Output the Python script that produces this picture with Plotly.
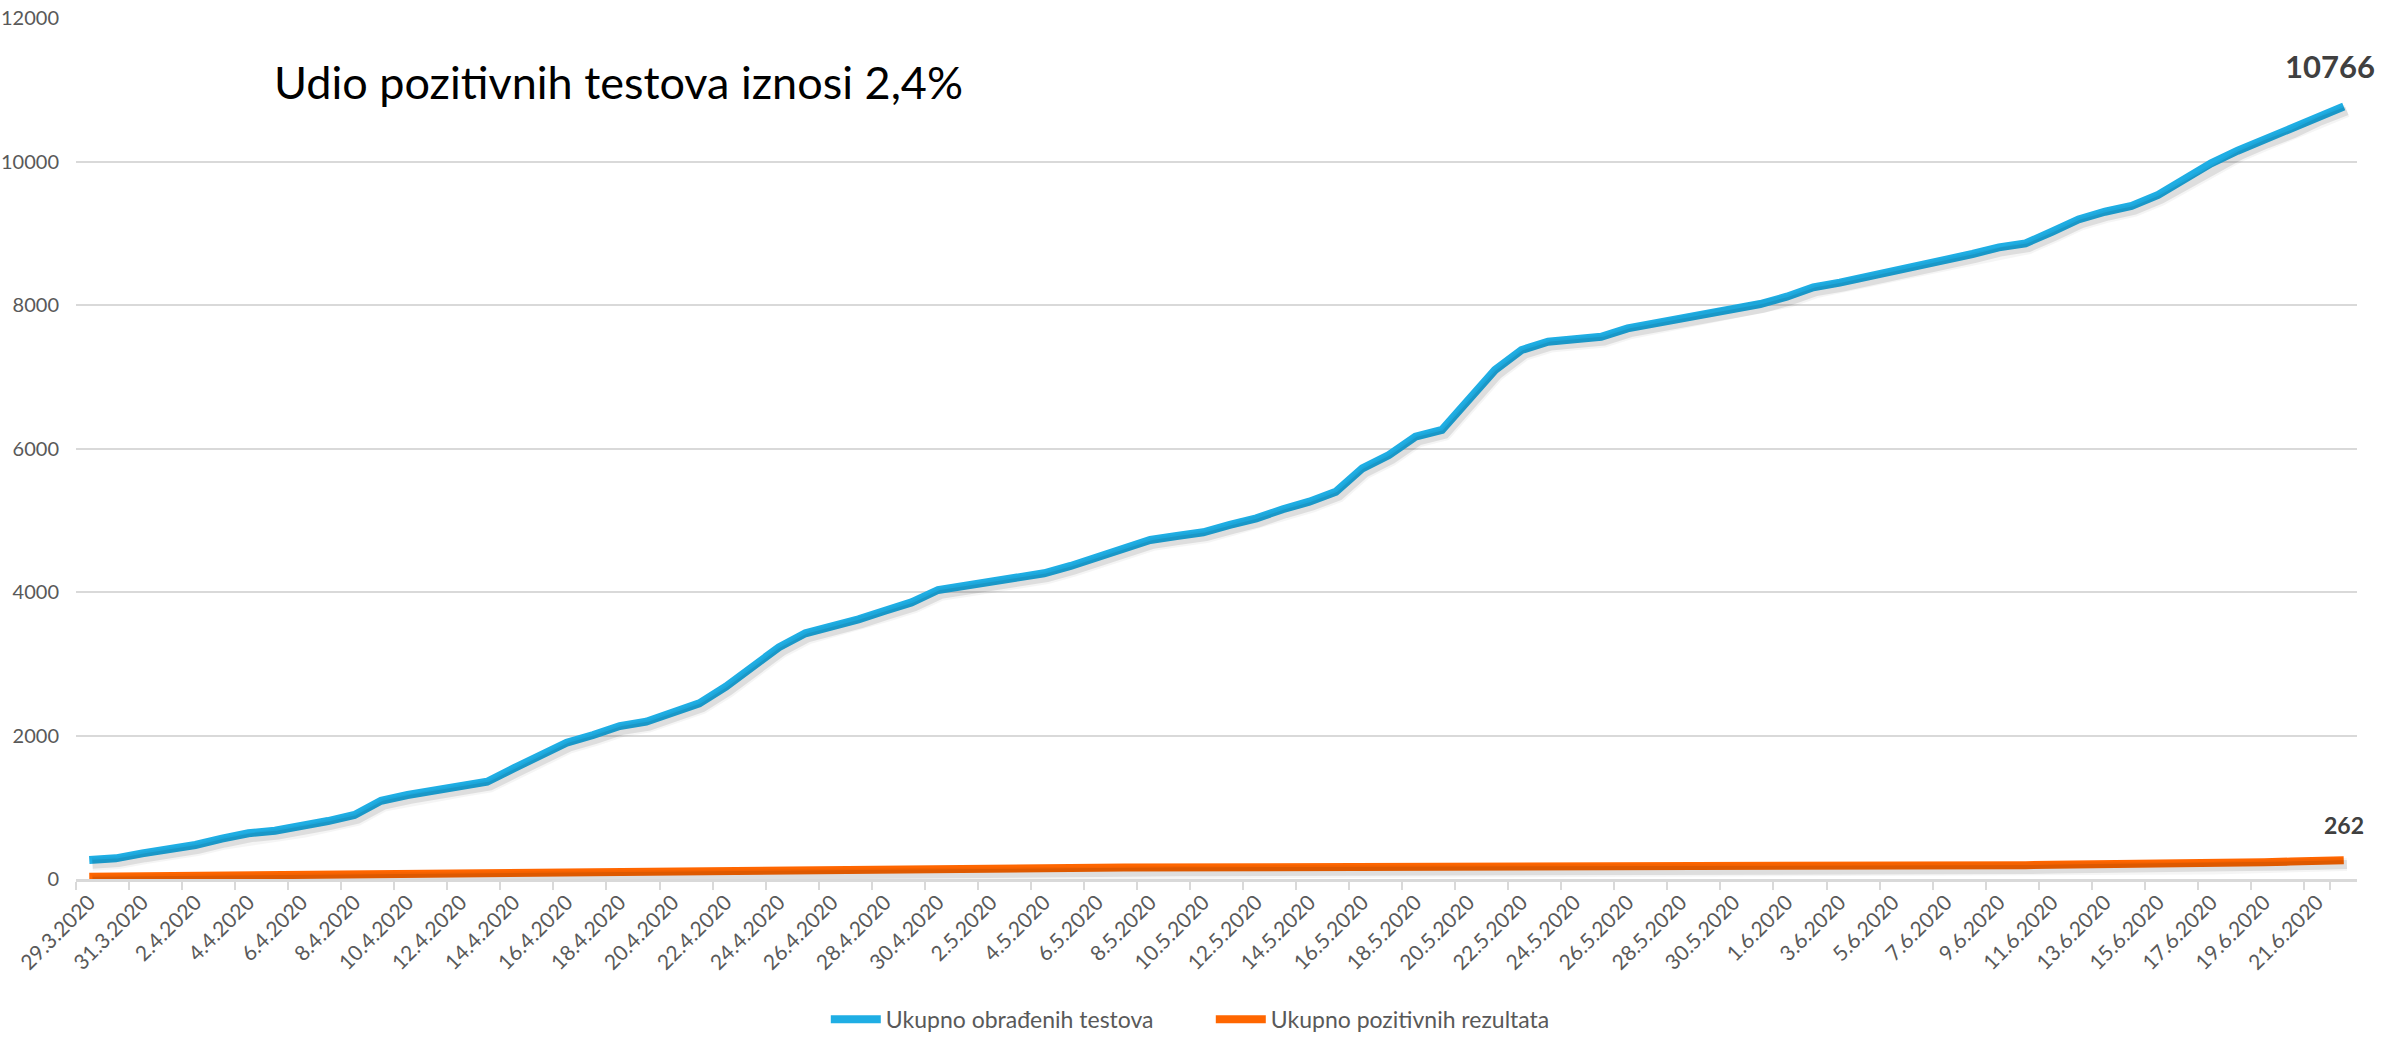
import plotly.graph_objects as go

dates = [
    "29.3.2020", "30.3.2020", "31.3.2020",
    "1.4.2020", "2.4.2020", "3.4.2020", "4.4.2020", "5.4.2020", "6.4.2020", "7.4.2020", "8.4.2020",
    "9.4.2020", "10.4.2020", "11.4.2020", "12.4.2020", "13.4.2020", "14.4.2020", "15.4.2020",
    "16.4.2020", "17.4.2020", "18.4.2020", "19.4.2020", "20.4.2020", "21.4.2020", "22.4.2020",
    "23.4.2020", "24.4.2020", "25.4.2020", "26.4.2020", "27.4.2020", "28.4.2020", "29.4.2020",
    "30.4.2020",
    "1.5.2020", "2.5.2020", "3.5.2020", "4.5.2020", "5.5.2020", "6.5.2020", "7.5.2020", "8.5.2020",
    "9.5.2020", "10.5.2020", "11.5.2020", "12.5.2020", "13.5.2020", "14.5.2020", "15.5.2020",
    "16.5.2020", "17.5.2020", "18.5.2020", "19.5.2020", "20.5.2020", "21.5.2020", "22.5.2020",
    "23.5.2020", "24.5.2020", "25.5.2020", "26.5.2020", "27.5.2020", "28.5.2020", "29.5.2020",
    "30.5.2020", "31.5.2020",
    "1.6.2020", "2.6.2020", "3.6.2020", "4.6.2020", "5.6.2020", "6.6.2020", "7.6.2020", "8.6.2020",
    "9.6.2020", "10.6.2020", "11.6.2020", "12.6.2020", "13.6.2020", "14.6.2020", "15.6.2020",
    "16.6.2020", "17.6.2020", "18.6.2020", "19.6.2020", "20.6.2020", "21.6.2020", "22.6.2020",
]

tested = [
    265, 288, 357, 404, 474, 562, 637, 673, 729, 808,
    892, 1091, 1171, 1240, 1296, 1356, 1542, 1714, 1900, 2007,
    2132, 2192, 2318, 2449, 2680, 2959, 3229, 3424, 3516, 3619,
    3739, 3855, 4028, 4085, 4144, 4177, 4261, 4363, 4493, 4609,
    4725, 4781, 4832, 4934, 5027, 5153, 5259, 5398, 5724, 5909,
    6165, 6258, 6676, 7094, 7373, 7489, 7522, 7558, 7675, 7745,
    7820, 7885, 7941, 8014, 8116, 8247, 8311, 8386, 8478, 8557,
    8636, 8711, 8803, 8859, 9021, 9193, 9300, 9380, 9533, 9742,
    9974, 10150, 10308, 10448, 10624, 10766,
]

positive = [
    30, 34, 38, 42, 46, 50, 54, 58, 61, 64,
    67, 70, 74, 78, 82, 86, 90, 94, 97, 100,
    103, 106, 109, 112, 116, 120, 124, 128, 132, 136,
    140, 144, 148, 151, 153, 155, 156, 157, 158, 159,
    160, 161, 162, 162, 163, 163, 163, 164, 164, 164,
    164, 165, 165, 165, 165, 165, 165, 166, 166, 166,
    166, 166, 166, 166, 166, 166, 166, 166, 167, 167,
    167, 168, 175, 192, 200, 202, 203, 204, 205, 207,
    215, 225, 234, 243, 253, 262,
]

series_names = ["Ukupno obrađenih testova", "Ukupno pozitivnih rezultata"]
title_text = "Udio pozitivnih testova iznosi 2,4%"
y_ticks = [0, 2000, 4000, 6000, 8000, 10000, 12000]
y_tick_labels = ["0", "2000", "4000", "6000", "8000", "10000", "12000"]

BLUE = "#1FAEE4"
ORANGE = "#FF6600"
FONT = "Lato"

fig = go.Figure()

# soft drop shadows (drawn on slightly offset overlay axes)
for vals in (tested, positive):
    for w, a in ((13, 0.04), (9, 0.09)):
        fig.add_trace(go.Scatter(
            x=dates, y=vals, mode="lines", xaxis="x2", yaxis="y2",
            line=dict(color=f"rgba(0,0,0,{a})", width=w),
            hoverinfo="skip", showlegend=False,
        ))

fig.add_trace(go.Scatter(
    x=dates, y=tested, mode="lines", name=series_names[0],
    line=dict(color=BLUE, width=8),
))
fig.add_trace(go.Scatter(
    x=dates, y=positive, mode="lines", name=series_names[1],
    line=dict(color=ORANGE, width=8),
))

n = len(dates)
fig.update_layout(
    width=2389, height=1037,
    margin=dict(l=76, r=32, t=18, b=158, autoexpand=False),
    paper_bgcolor="white", plot_bgcolor="white",
    font=dict(family=FONT, color="#595959"),
    xaxis=dict(
        type="category", range=[-0.5, n - 0.5], automargin=False,
        tickvals=dates[::2], ticktext=dates[::2],
        tickangle=-45, tickson="boundaries",
        ticks="outside", ticklen=8, tickwidth=2, tickcolor="#D9D9D9",
        showline=True, linecolor="#D9D9D9", linewidth=2.5,
        showgrid=False, zeroline=False,
        tickfont=dict(family=FONT, size=21, color="#595959"),
    ),
    yaxis=dict(
        range=[0, 12000], tickvals=y_ticks, ticktext=y_tick_labels,
        automargin=False,
        showgrid=True, gridcolor="#D9D9D9", gridwidth=1.5,
        zeroline=False, showline=False, ticks="",
        ticklabelstandoff=16,
        tickfont=dict(family=FONT, size=20, color="#595959"),
    ),
    xaxis2=dict(
        type="category", overlaying="x", visible=False,
        range=[-0.5 - 0.12, n - 0.5 - 0.12],
    ),
    yaxis2=dict(
        overlaying="y", visible=False, range=[60, 12060],
    ),
    legend=dict(
        orientation="h", x=0.4975, xanchor="center", y=-0.163, yanchor="middle",
        font=dict(family=FONT, size=23, color="#595959"),
        itemwidth=50, traceorder="normal",
        entrywidth=320, entrywidthmode="pixels",
    ),
    showlegend=True,
)

fig.add_annotation(
    text=title_text, xref="paper", yref="paper",
    x=0.086, y=0.926, xanchor="left", yanchor="middle",
    showarrow=False, font=dict(family=FONT, size=45, color="#000000"),
)
fig.add_annotation(
    text="<b>%d</b>" % tested[-1], x=dates[-1], y=tested[-1],
    xref="x", yref="y", xshift=-14, yshift=41, showarrow=False,
    font=dict(family=FONT, size=31, color="#404040"),
)
fig.add_annotation(
    text="<b>%d</b>" % positive[-1], x=dates[-1], y=positive[-1],
    xref="x", yref="y", xshift=0, yshift=35, showarrow=False,
    font=dict(family=FONT, size=23, color="#404040"),
)

fig.write_html(
    "out.html",
    config={"displayModeBar": False},
    post_script="document.body.style.margin='0px';document.body.style.overflow='hidden';",
)
